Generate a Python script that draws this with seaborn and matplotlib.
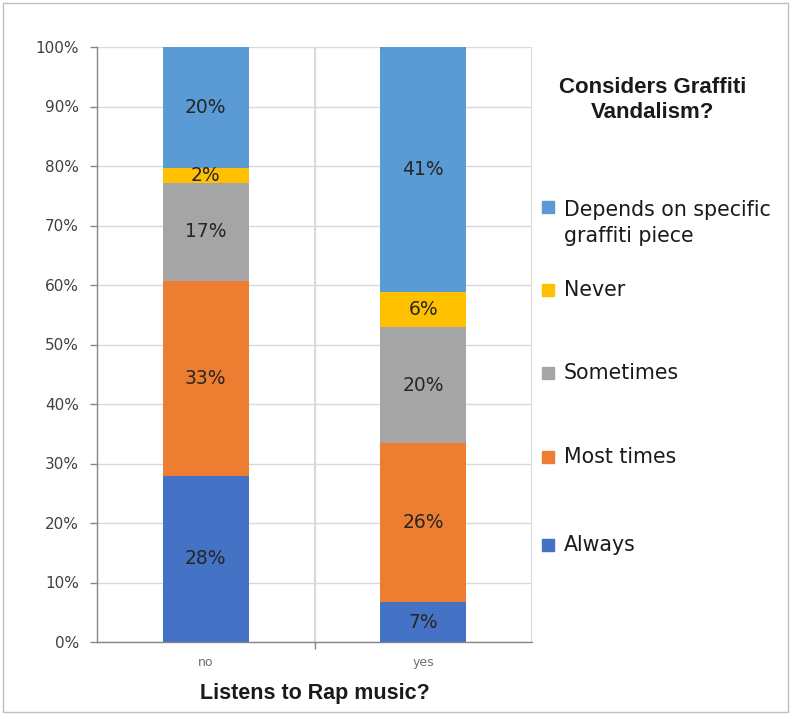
import matplotlib
matplotlib.use("Agg")
import matplotlib.pyplot as plt
from matplotlib.patches import Rectangle
import seaborn as sns
import numpy as np

groups = ["no", "yes"]
series_names = ["Always", "Most times", "Sometimes", "Never", "Depends on specific\ngraffiti piece"]
always = [27.9, 6.7]
most_times = [32.8, 26.7]
sometimes = [16.5, 19.5]
never = [2.4, 5.9]
depends = [20.4, 41.2]
label_always = ["28%", "7%"]
label_most = ["33%", "26%"]
label_sometimes = ["17%", "20%"]
label_never = ["2%", "6%"]
label_depends = ["20%", "41%"]
y_ticks = [0, 10, 20, 30, 40, 50, 60, 70, 80, 90, 100]

colors = ["#4472C4", "#ED7D31", "#A5A5A5", "#FFC000", "#5B9BD5"]
series = [always, most_times, sometimes, never, depends]
labels = [label_always, label_most, label_sometimes, label_never, label_depends]

sns.set_theme(style="white")
plt.rcParams["font.family"] = ["DejaVu Sans"]

fig = plt.figure(figsize=(7.91, 7.15), dpi=100)
ax = fig.add_axes([97/791, 1-642/715, (532-97)/791, (642-47)/715])

bottom = np.zeros(len(groups))
for vals, col, labs in zip(series, colors, labels):
    sns.barplot(x=groups, y=vals, bottom=bottom, color=col, width=0.395,
                ax=ax, saturation=1, linewidth=0)
    for i, (v, lab) in enumerate(zip(vals, labs)):
        ax.text(i, bottom[i] + v/2, lab, ha="center", va="center",
                fontsize=13.5, color="#262626")
    bottom = bottom + np.array(vals)

ax.set_xlim(-0.5, 1.5)
ax.set_ylim(0, 100)
ax.set_yticks(y_ticks)
ax.set_yticklabels([f"{t}%" for t in y_ticks], fontsize=11, color="#404040")
ax.yaxis.grid(True, color="#D9D9D9", linewidth=1)
ax.set_axisbelow(True)
for xv in [0.5, 1.5]:
    ax.axvline(xv, color="#D9D9D9", linewidth=1.5, zorder=0)
ax.tick_params(axis="y", which="major", left=True, length=5, width=1, color="#868686", pad=8)
ax.tick_params(axis="x", which="major", bottom=False, labelsize=9, labelcolor="#6f6f6f", pad=4)
ax.set_xticks([0.5], minor=True)
ax.tick_params(axis="x", which="minor", bottom=True, length=5, width=1, color="#868686")
for s in ["top", "right"]:
    ax.spines[s].set_visible(False)
for s in ["left", "bottom"]:
    ax.spines[s].set_color("#868686")
    ax.spines[s].set_linewidth(1)
ax.set_xlabel("Listens to Rap music?", fontsize=15.5, fontweight="bold",
              family=["Liberation Sans", "DejaVu Sans"], color="#1a1a1a", labelpad=10)
ax.set_ylabel("")

# legend (manual placement, Excel style)
fig.text(653/791, 1-100/715, "Considers Graffiti\nVandalism?", ha="center", va="center",
         fontsize=16, fontweight="bold", family=["Liberation Sans", "DejaVu Sans"],
         color="#1a1a1a", linespacing=1.2)
legend_items = [
    (series_names[4], colors[4], 207, 223),
    (series_names[3], colors[3], 290, 290),
    (series_names[2], colors[2], 373, 373),
    (series_names[1], colors[1], 457, 457),
    (series_names[0], colors[0], 545, 545),
]
for name, col, ysq, ytxt in legend_items:
    fig.patches.append(Rectangle((542/791, 1-(ysq+6)/715), 12/791, 12/715,
                                 transform=fig.transFigure, color=col, figure=fig))
    fig.text(564/791, 1-ytxt/715, name, ha="left", va="center", fontsize=14.8,
             color="#1a1a1a", linespacing=1.4)

fig.patches.append(Rectangle((3/791, 3/715), 785/791, 709/715, transform=fig.transFigure,
                             fill=False, edgecolor="#BFBFBF", linewidth=1, figure=fig))

fig.savefig("out.png", dpi=100)
